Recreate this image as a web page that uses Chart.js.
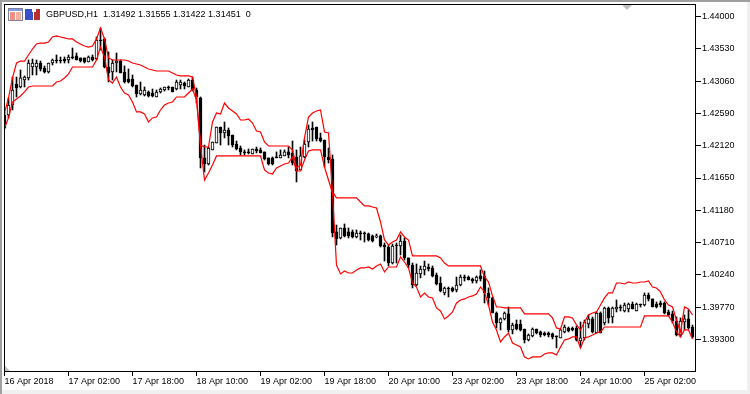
<!DOCTYPE html>
<html>
<head>
<meta charset="utf-8">
<title>GBPUSD,H1</title>
<script src="https://cdn.jsdelivr.net/npm/chart.js@4"></script>
<style>
  html, body { margin: 0; padding: 0; background: #fff; }
  #wrap { position: relative; width: 750px; height: 394px; overflow: hidden; }
  #quote { position: absolute; left: 46px; top: 9px; font: 9px/11px "Liberation Sans", sans-serif; color: #000; white-space: pre; }
  #icons { position: absolute; left: 8px; top: 8px; }
</style>
</head>
<body>
<div id="wrap">
  <canvas id="priceChart" width="750" height="394"></canvas>
  <svg id="icons" width="33" height="13">
    <rect x="0.5" y="0.5" width="14" height="12" fill="#fff" stroke="#7d7d9c"/>
    <rect x="1" y="1" width="13" height="2" fill="#7f9fdf"/>
    <rect x="2" y="4" width="5" height="8" fill="#ef8f7f"/>
    <rect x="8" y="4" width="5" height="8" fill="#f4b0a0"/>
    <path d="M17 1h7v3h1v8h-8z" fill="#3a50c8"/>
    <path d="M26 4h2V1h4v11h-6z" fill="#b83030"/>
  </svg>
  <div id="quote">GBPUSD,H1  1.31492 1.31555 1.31422 1.31451  0</div>
</div>
<script type="text/javascript">
var xTickLabels = ["16 Apr 2018", "17 Apr 02:00", "17 Apr 18:00", "18 Apr 10:00", "19 Apr 02:00", "19 Apr 18:00", "20 Apr 10:00", "23 Apr 02:00", "23 Apr 18:00", "24 Apr 10:00", "25 Apr 02:00"];
var xTickBars = [0, 16, 32, 48, 64, 80, 96, 112, 128, 144, 160];
var priceTicks = [1.44000, 1.43530, 1.43060, 1.42590, 1.42120, 1.41650, 1.41180, 1.40710, 1.40240, 1.39770, 1.39300];

var opens = [
  1.42567, 1.42567, 1.42712, 1.43018, 1.42974, 1.43076, 1.43106, 1.43265, 1.43265, 1.43323,
  1.43251, 1.43193, 1.43323, 1.43367, 1.43367, 1.43382, 1.43367, 1.43411, 1.43426, 1.43397,
  1.43397, 1.43338, 1.43411, 1.43382, 1.43658, 1.43673, 1.43265, 1.43193, 1.43323, 1.43352,
  1.43193, 1.43091, 1.43091, 1.43003, 1.42873, 1.42858, 1.42902, 1.42887, 1.42829, 1.42902,
  1.42931, 1.42974, 1.42974, 1.42945, 1.43003, 1.43032, 1.42974, 1.43076, 1.42931, 1.42815,
  1.41942, 1.41854, 1.42058, 1.42159, 1.42392, 1.42305, 1.42349, 1.42276, 1.42145, 1.42087,
  1.42029, 1.42029, 1.42000, 1.42072, 1.42058, 1.42029, 1.41942, 1.41942, 1.41956, 1.41942,
  1.41971, 1.42029, 1.42014, 1.41956, 1.41767, 1.41956, 1.42174, 1.42378, 1.42392, 1.42233,
  1.42203, 1.41956, 1.41927, 1.40865, 1.40778, 1.40923, 1.40865, 1.40865, 1.40792, 1.40850,
  1.40850, 1.40836, 1.40807, 1.40792, 1.40807, 1.40675, 1.40646, 1.40413, 1.40675, 1.40661,
  1.40733, 1.40487, 1.40384, 1.40093, 1.40254, 1.40312, 1.40355, 1.40341, 1.40239, 1.40122,
  1.39977, 1.40050, 1.40050, 1.40021, 1.40093, 1.40210, 1.40210, 1.40181, 1.40151, 1.40225,
  1.40225, 1.39977, 1.39905, 1.39686, 1.39540, 1.39599, 1.39672, 1.39439, 1.39526, 1.39526,
  1.39453, 1.39293, 1.39352, 1.39453, 1.39410, 1.39395, 1.39395, 1.39381, 1.39352, 1.39323,
  1.39410, 1.39468, 1.39468, 1.39468, 1.39278, 1.39323, 1.39526, 1.39599, 1.39395, 1.39686,
  1.39540, 1.39759, 1.39628, 1.39744, 1.39773, 1.39715, 1.39744, 1.39817, 1.39715, 1.39817,
  1.39802, 1.39948, 1.39890, 1.39817, 1.39831, 1.39831, 1.39701, 1.39672, 1.39569, 1.39366,
  1.39555, 1.39599, 1.39482
];
var closes = [
  1.42378, 1.42712, 1.42931, 1.42960, 1.43106, 1.43120, 1.43323, 1.43323, 1.43323, 1.43236,
  1.43193, 1.43323, 1.43367, 1.43352, 1.43352, 1.43352, 1.43411, 1.43397, 1.43367, 1.43352,
  1.43338, 1.43411, 1.43367, 1.43658, 1.43643, 1.43265, 1.43178, 1.43323, 1.43352, 1.43178,
  1.43047, 1.43047, 1.42989, 1.42873, 1.42931, 1.42931, 1.42844, 1.42844, 1.42902, 1.42945,
  1.42974, 1.42960, 1.42902, 1.43047, 1.43047, 1.42989, 1.43076, 1.42931, 1.42829, 1.41942,
  1.41854, 1.42087, 1.42174, 1.42392, 1.42305, 1.42349, 1.42262, 1.42130, 1.42072, 1.42029,
  1.42014, 1.42014, 1.42072, 1.42043, 1.42014, 1.41927, 1.41854, 1.41854, 1.41942, 1.41985,
  1.42029, 1.41985, 1.41868, 1.41752, 1.41971, 1.42145, 1.42363, 1.42349, 1.42218, 1.42188,
  1.41956, 1.41912, 1.40850, 1.40763, 1.40923, 1.40807, 1.40807, 1.40792, 1.40850, 1.40836,
  1.40836, 1.40748, 1.40733, 1.40807, 1.40661, 1.40646, 1.40413, 1.40661, 1.40661, 1.40733,
  1.40487, 1.40384, 1.40093, 1.40268, 1.40326, 1.40370, 1.40326, 1.40225, 1.40108, 1.40006,
  1.40050, 1.40035, 1.40006, 1.40093, 1.40210, 1.40196, 1.40166, 1.40151, 1.40210, 1.40181,
  1.39977, 1.39905, 1.39686, 1.39540, 1.39599, 1.39686, 1.39439, 1.39511, 1.39453, 1.39439,
  1.39293, 1.39366, 1.39453, 1.39395, 1.39366, 1.39366, 1.39366, 1.39337, 1.39337, 1.39439,
  1.39482, 1.39424, 1.39439, 1.39293, 1.39323, 1.39555, 1.39599, 1.39410, 1.39686, 1.39395,
  1.39759, 1.39614, 1.39759, 1.39773, 1.39759, 1.39802, 1.39817, 1.39744, 1.39817, 1.39802,
  1.39948, 1.39890, 1.39773, 1.39773, 1.39802, 1.39686, 1.39657, 1.39569, 1.39366, 1.39569,
  1.39599, 1.39468, 1.39337
];
var highs = [
  1.42611, 1.42815, 1.43120, 1.43120, 1.43222, 1.43135, 1.43367, 1.43382, 1.43367, 1.43352,
  1.43280, 1.43323, 1.43382, 1.43440, 1.43411, 1.43411, 1.43440, 1.43542, 1.43469, 1.43397,
  1.43397, 1.43426, 1.43440, 1.43702, 1.43833, 1.43688, 1.43484, 1.43367, 1.43469, 1.43367,
  1.43280, 1.43236, 1.43149, 1.43003, 1.43047, 1.42974, 1.42916, 1.42945, 1.42931, 1.42960,
  1.42974, 1.42989, 1.42974, 1.43076, 1.43076, 1.43047, 1.43091, 1.43120, 1.42960, 1.42829,
  1.42130, 1.42101, 1.42174, 1.42392, 1.42392, 1.42465, 1.42378, 1.42276, 1.42188, 1.42116,
  1.42058, 1.42072, 1.42072, 1.42101, 1.42087, 1.42029, 1.41942, 1.41956, 1.42029, 1.42058,
  1.42058, 1.42101, 1.42188, 1.42058, 1.42101, 1.42203, 1.42421, 1.42465, 1.42392, 1.42305,
  1.42203, 1.42087, 1.41985, 1.40966, 1.40923, 1.40981, 1.40923, 1.40894, 1.40894, 1.40879,
  1.40865, 1.40850, 1.40821, 1.40836, 1.40821, 1.40704, 1.40675, 1.40690, 1.40704, 1.40821,
  1.40778, 1.40487, 1.40413, 1.40399, 1.40370, 1.40442, 1.40399, 1.40370, 1.40268, 1.40210,
  1.40064, 1.40064, 1.40064, 1.40210, 1.40239, 1.40239, 1.40225, 1.40196, 1.40225, 1.40312,
  1.40297, 1.40050, 1.39919, 1.39701, 1.39614, 1.39701, 1.39773, 1.39540, 1.39584, 1.39584,
  1.39453, 1.39381, 1.39468, 1.39453, 1.39424, 1.39410, 1.39410, 1.39395, 1.39352, 1.39453,
  1.39511, 1.39482, 1.39482, 1.39497, 1.39555, 1.39584, 1.39657, 1.39628, 1.39701, 1.39701,
  1.39773, 1.39773, 1.39773, 1.39875, 1.39802, 1.39831, 1.39831, 1.39846, 1.39831, 1.39817,
  1.39977, 1.39977, 1.39890, 1.39846, 1.39860, 1.39846, 1.39730, 1.39715, 1.39628, 1.39614,
  1.39657, 1.39730, 1.39511
];
var lows = [
  1.42363, 1.42524, 1.42640, 1.42829, 1.42960, 1.42974, 1.43076, 1.43149, 1.43149, 1.43207,
  1.43178, 1.43178, 1.43294, 1.43323, 1.43323, 1.43323, 1.43323, 1.43382, 1.43367, 1.43338,
  1.43323, 1.43338, 1.43352, 1.43367, 1.43513, 1.43251, 1.43047, 1.43076, 1.43193, 1.43178,
  1.43032, 1.43032, 1.42974, 1.42829, 1.42858, 1.42844, 1.42829, 1.42829, 1.42829, 1.42887,
  1.42916, 1.42931, 1.42902, 1.42931, 1.42945, 1.42945, 1.42974, 1.42916, 1.42741, 1.41796,
  1.41738, 1.41839, 1.42058, 1.42159, 1.42130, 1.42233, 1.42130, 1.42101, 1.42058, 1.41985,
  1.41985, 1.42000, 1.42000, 1.42014, 1.42014, 1.41912, 1.41839, 1.41839, 1.41942, 1.41942,
  1.41971, 1.41942, 1.41839, 1.41592, 1.41767, 1.41942, 1.42101, 1.42188, 1.42188, 1.42174,
  1.41810, 1.41868, 1.40792, 1.40675, 1.40763, 1.40792, 1.40778, 1.40778, 1.40778, 1.40748,
  1.40719, 1.40733, 1.40719, 1.40778, 1.40646, 1.40442, 1.40370, 1.40399, 1.40413, 1.40530,
  1.40457, 1.40341, 1.40050, 1.40079, 1.40196, 1.40239, 1.40297, 1.40210, 1.40093, 1.39992,
  1.39948, 1.39919, 1.39992, 1.39992, 1.40079, 1.40151, 1.40166, 1.40122, 1.40122, 1.40151,
  1.39831, 1.39802, 1.39686, 1.39468, 1.39439, 1.39584, 1.39410, 1.39381, 1.39439, 1.39424,
  1.39249, 1.39278, 1.39337, 1.39381, 1.39337, 1.39352, 1.39337, 1.39308, 1.39177, 1.39323,
  1.39395, 1.39410, 1.39424, 1.39278, 1.39191, 1.39293, 1.39468, 1.39395, 1.39395, 1.39395,
  1.39511, 1.39540, 1.39540, 1.39701, 1.39715, 1.39701, 1.39701, 1.39744, 1.39715, 1.39773,
  1.39788, 1.39860, 1.39773, 1.39759, 1.39773, 1.39672, 1.39643, 1.39540, 1.39352, 1.39337,
  1.39439, 1.39453, 1.39323
];
var upperBand = [
  1.42596, 1.42815, 1.43106, 1.43323, 1.43352, 1.43352, 1.43440, 1.43527, 1.43600, 1.43614,
  1.43614, 1.43629, 1.43702, 1.43717, 1.43702, 1.43688, 1.43673, 1.43673, 1.43629, 1.43600,
  1.43571, 1.43556, 1.43571, 1.43673, 1.43833, 1.43673, 1.43397, 1.43367, 1.43367, 1.43367,
  1.43367, 1.43352, 1.43323, 1.43309, 1.43294, 1.43265, 1.43236, 1.43222, 1.43207, 1.43207,
  1.43207, 1.43207, 1.43178, 1.43149, 1.43135, 1.43135, 1.43135, 1.43120, 1.42829, 1.42130,
  1.42101, 1.42101, 1.42465, 1.42596, 1.42582, 1.42741, 1.42669, 1.42625, 1.42582, 1.42494,
  1.42494, 1.42509, 1.42450, 1.42334, 1.42320, 1.42174, 1.42116, 1.42116, 1.42116, 1.42116,
  1.42116, 1.42116, 1.42058, 1.41796, 1.41839, 1.42233, 1.42538, 1.42596, 1.42625, 1.42640,
  1.42320, 1.42305, 1.41447, 1.41360, 1.41360, 1.41360, 1.41360, 1.41360, 1.41360, 1.41301,
  1.41243, 1.41243, 1.41228, 1.41214, 1.41010, 1.40748, 1.40675, 1.40719, 1.40748, 1.40865,
  1.40792, 1.40748, 1.40516, 1.40516, 1.40516, 1.40516, 1.40516, 1.40516, 1.40516, 1.40487,
  1.40413, 1.40370, 1.40370, 1.40370, 1.40370, 1.40370, 1.40370, 1.40370, 1.40370, 1.40370,
  1.40210, 1.40137, 1.39934, 1.39773, 1.39773, 1.39759, 1.39759, 1.39759, 1.39759, 1.39759,
  1.39672, 1.39672, 1.39672, 1.39672, 1.39672, 1.39672, 1.39672, 1.39614, 1.39468, 1.39453,
  1.39628, 1.39628, 1.39614, 1.39511, 1.39439, 1.39555, 1.39657, 1.39686, 1.39701, 1.39802,
  1.39905, 1.39977, 1.39977, 1.40122, 1.40122, 1.40108, 1.40137, 1.40122, 1.40122, 1.40137,
  1.40137, 1.40151, 1.40064, 1.40050, 1.39992, 1.39875, 1.39802, 1.39773, 1.39584, 1.39410,
  1.39773, 1.39744, 1.39657
];
var lowerBand = [
  1.42378, 1.42524, 1.42756, 1.42800, 1.42844, 1.42902, 1.42974, 1.42989, 1.42989, 1.42989,
  1.42989, 1.42989, 1.42989, 1.43047, 1.43061, 1.43106, 1.43164, 1.43265, 1.43265, 1.43265,
  1.43265, 1.43265, 1.43265, 1.43367, 1.43556, 1.43411, 1.43076, 1.43032, 1.43120, 1.42974,
  1.42887, 1.42858, 1.42756, 1.42611, 1.42611, 1.42582, 1.42465, 1.42524, 1.42538, 1.42640,
  1.42712, 1.42741, 1.42756, 1.42829, 1.42829, 1.42829, 1.42887, 1.42945, 1.42785, 1.42130,
  1.41621, 1.41723, 1.41839, 1.41971, 1.41971, 1.41971, 1.41971, 1.41971, 1.41971, 1.41971,
  1.41971, 1.41971, 1.41971, 1.41971, 1.41971, 1.41767, 1.41723, 1.41709, 1.41796, 1.41825,
  1.41854, 1.41868, 1.41956, 1.41752, 1.41752, 1.41912, 1.42043, 1.42058, 1.42058, 1.42058,
  1.41810, 1.41621, 1.41432, 1.40384, 1.40254, 1.40297, 1.40268, 1.40268, 1.40312, 1.40341,
  1.40341, 1.40355, 1.40326, 1.40370, 1.40399, 1.40283, 1.40355, 1.40355, 1.40355, 1.40501,
  1.40428, 1.40341, 1.40122, 1.40064, 1.39919, 1.39977, 1.39919, 1.39905, 1.39759, 1.39715,
  1.39599, 1.39643, 1.39701, 1.39831, 1.39875, 1.39890, 1.39919, 1.39934, 1.39963, 1.40064,
  1.39992, 1.39802, 1.39555, 1.39439, 1.39264, 1.39337, 1.39395, 1.39249, 1.39220, 1.39191,
  1.39046, 1.39017, 1.39046, 1.39046, 1.39046, 1.39090, 1.39104, 1.39104, 1.39075, 1.39191,
  1.39293, 1.39308, 1.39337, 1.39337, 1.39177, 1.39323, 1.39337, 1.39366, 1.39395, 1.39410,
  1.39482, 1.39482, 1.39482, 1.39482, 1.39482, 1.39482, 1.39482, 1.39482, 1.39482, 1.39482,
  1.39643, 1.39643, 1.39643, 1.39643, 1.39643, 1.39643, 1.39643, 1.39555, 1.39410, 1.39337,
  1.39439, 1.39439, 1.39308
];

function barPoints(a, b) {
  return a.map(function (v, i) { return { x: i, y: [v, b[i]] }; });
}
function linePoints(a) {
  return a.map(function (v, i) { return { x: i, y: v }; });
}

// window frame, chart box and the two little grey MT5 markers
var framePlugin = {
  id: "frame",
  beforeDraw: function (chart) {
    var c = chart.ctx;
    c.save();
    c.fillStyle = "#f0f0f0";
    c.fillRect(747, 0, 3, 394);
    c.fillRect(0, 390, 750, 4);
    c.fillStyle = "#a0a0a0";
    c.fillRect(0, 0, 750, 2);
    c.fillRect(0, 0, 2, 394);
    c.restore();
  },
  afterDraw: function (chart) {
    var c = chart.ctx;
    c.save();
    c.strokeStyle = "#000";
    c.lineWidth = 1;
    c.strokeRect(4.5, 4.5, 691, 367);
    c.fillStyle = "#c0c0c0";
    c.beginPath();
    c.moveTo(622, 5); c.lineTo(632, 5); c.lineTo(627, 10);
    c.fill();
    c.beginPath();
    c.moveTo(5, 366); c.lineTo(5, 371); c.lineTo(10, 371);
    c.fill();
    c.restore();
  }
};

var tickFont = { family: '"Liberation Sans", sans-serif', size: 9 };

var chart = new Chart("priceChart", {
  data: {
    datasets: [
      { type: "line", label: "Upper", data: linePoints(upperBand), borderColor: "#ff0000", borderWidth: 1.2, pointRadius: 0, tension: 0, order: 0 },
      { type: "line", label: "Lower", data: linePoints(lowerBand), borderColor: "#ff0000", borderWidth: 1.2, pointRadius: 0, tension: 0, order: 0 },
      {
        type: "bar", label: "Body", data: barPoints(opens, closes), grouped: false, barThickness: 3, minBarLength: 1,
        backgroundColor: opens.map(function (o, i) { return closes[i] >= o ? "#ffffff" : "#000000"; }),
        borderColor: "#000000", borderWidth: 1, borderSkipped: false, order: 1
      },
      { type: "bar", label: "Wick", data: barPoints(lows, highs), grouped: false, barThickness: 1, backgroundColor: "#000000", borderWidth: 0, order: 2 }
    ]
  },
  options: {
    responsive: false,
    animation: false,
    events: [],
    layout: { padding: { left: 4, top: 4, right: 0, bottom: 0 } },
    plugins: { legend: { display: false }, tooltip: { enabled: false } },
    scales: {
      x: {
        type: "linear",
        offset: false,
        min: -0.125,
        max: 172.875,
        afterBuildTicks: function (scale) {
          scale.ticks = xTickBars.map(function (v) { return { value: v }; });
        },
        afterFit: function (scale) { scale.height = 22; scale.paddingLeft = 0; scale.paddingRight = 0; },
        border: { display: false },
        grid: { offset: false, drawOnChartArea: false, tickLength: 4, tickColor: "#000", tickWidth: 1 },
        ticks: {
          autoSkip: false, maxRotation: 0, align: "start", padding: 0, color: "#000", font: tickFont,
          callback: function (v, i) { return xTickLabels[i]; }
        }
      },
      y: {
        position: "right",
        min: 1.388271,
        max: 1.441819,
        afterBuildTicks: function (scale) {
          scale.ticks = priceTicks.map(function (v) { return { value: v }; });
        },
        afterFit: function (scale) { scale.width = 54; scale.paddingTop = 0; scale.paddingBottom = 0; },
        border: { display: false },
        grid: { drawOnChartArea: false, tickLength: 5, tickColor: "#000", tickWidth: 1 },
        ticks: {
          autoSkip: false, padding: 1, color: "#000", font: tickFont,
          callback: function (v) { return v.toFixed(5); }
        }
      }
    }
  },
  plugins: [framePlugin]
});
</script>
</body>
</html>
